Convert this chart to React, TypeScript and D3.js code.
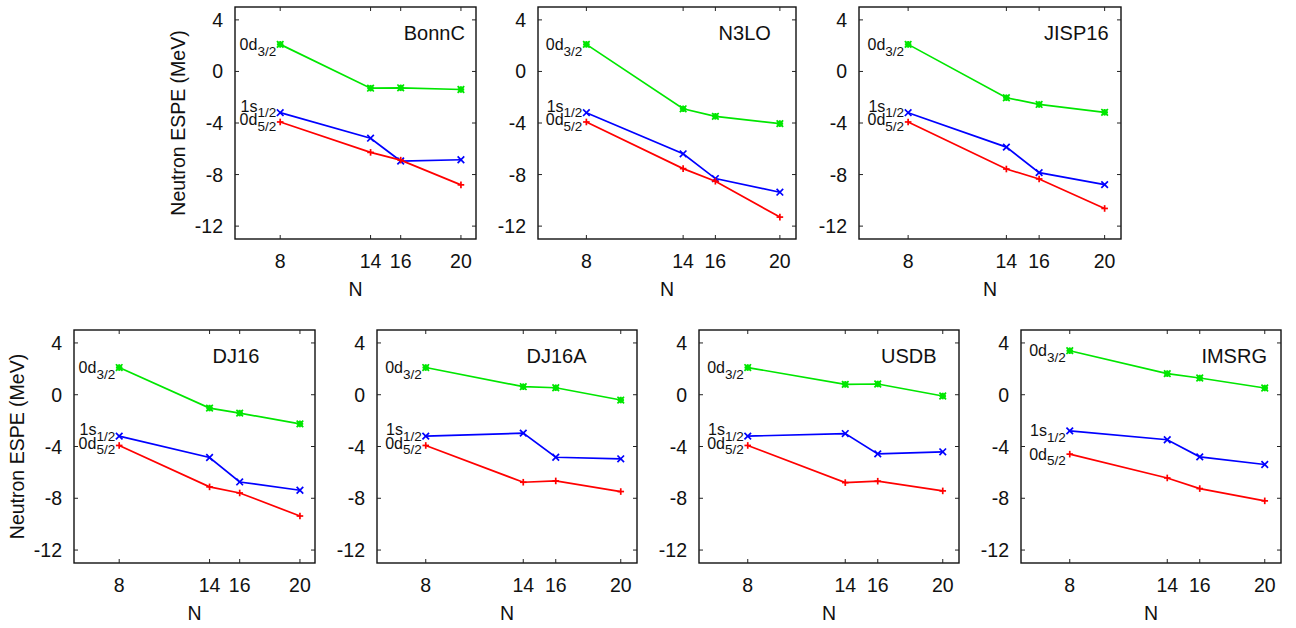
import React, { useEffect, useRef } from 'react';
import * as d3 from 'd3';

// neutron numbers on the x axis
const nValues = [8, 14, 16, 20];
const xTicks = [8, 14, 16, 20];
const yTicks = [4, 0, -4, -8, -12];

const panelNames = ['BonnC', 'N3LO', 'JISP16', 'DJ16', 'DJ16A', 'USDB', 'IMSRG'];

// ESPE (MeV) per panel, one row per panel in panelNames order
const d32Values = [
  [2.1, -1.3, -1.27, -1.4],
  [2.1, -2.9, -3.48, -4.05],
  [2.1, -2.04, -2.56, -3.17],
  [2.1, -1.03, -1.42, -2.25],
  [2.1, 0.62, 0.54, -0.41],
  [2.1, 0.8, 0.83, -0.1],
  [3.4, 1.63, 1.29, 0.52],
];
const s12Values = [
  [-3.2, -5.18, -6.95, -6.85],
  [-3.2, -6.39, -8.31, -9.37],
  [-3.2, -5.87, -7.85, -8.78],
  [-3.2, -4.85, -6.74, -7.38],
  [-3.2, -2.97, -4.83, -4.95],
  [-3.2, -3.0, -4.57, -4.41],
  [-2.79, -3.48, -4.8, -5.39],
];
const d52Values = [
  [-3.92, -6.28, -6.88, -8.8],
  [-3.92, -7.54, -8.52, -11.3],
  [-3.92, -7.57, -8.34, -10.63],
  [-3.92, -7.12, -7.59, -9.37],
  [-3.92, -6.76, -6.66, -7.48],
  [-3.92, -6.79, -6.68, -7.43],
  [-4.59, -6.43, -7.25, -8.2],
];

// layout (pixels) for each panel frame
const frames = [
  { left: 235, right: 476, top: 7, bottom: 239, ylabel: true },
  { left: 538, right: 796, top: 7, bottom: 239, ylabel: false },
  { left: 859, right: 1121, top: 7, bottom: 239, ylabel: false },
  { left: 74, right: 315, top: 330, bottom: 563, ylabel: true },
  { left: 377, right: 637, top: 330, bottom: 563, ylabel: false },
  { left: 699, right: 959, top: 330, bottom: 563, ylabel: false },
  { left: 1021, right: 1281, top: 330, bottom: 563, ylabel: false },
];
// title start position in data units of x
const titleX = [16.2, 16.2, 16.3, 14.2, 14.2, 16.2, 16.1];
// vertical nudge (px) of the level labels: d3/2, s1/2, d5/2
const labelNudge = [
  [0, -6.5, -2.2],
  [0, -6.5, -2.2],
  [0, -6.5, -2.2],
  [0, -6.5, -2.2],
  [0, -6.5, -2.2],
  [0, -6.5, -2.2],
  [0, 0, 0],
];

const FONT = '"Liberation Sans", Arial, Helvetica, sans-serif';
const AXIS_FS = 19.5;

const series = [
  { key: 'd32', main: '0d', sub: '3/2', color: '#00e600', marker: 'star', values: d32Values },
  { key: 's12', main: '1s', sub: '1/2', color: '#0000ff', marker: 'cross', values: s12Values },
  { key: 'd52', main: '0d', sub: '5/2', color: '#ff0000', marker: 'plus', values: d52Values },
];

const drawMarker = (g: any, type: string, x: number, y: number, color: string) => {
  const s = 3.3;
  const lines: number[][] = [];
  if (type === 'plus' || type === 'star') {
    lines.push([x - s, y, x + s, y], [x, y - s, x, y + s]);
  }
  if (type === 'cross' || type === 'star') {
    lines.push([x - s, y - s, x + s, y + s], [x - s, y + s, x + s, y - s]);
  }
  lines.forEach(l => {
    g.append('line')
      .attr('x1', l[0]).attr('y1', l[1]).attr('x2', l[2]).attr('y2', l[3])
      .attr('stroke', color).attr('stroke-width', 1.7);
  });
  if (type === 'star') {
    g.append('rect')
      .attr('x', x - 2.8).attr('y', y - 2.8).attr('width', 5.6).attr('height', 5.6)
      .attr('fill', color).attr('opacity', 0.85);
  }
};

const App = () => {
  const ref = useRef<SVGSVGElement>(null);

  useEffect(() => {
    const svg = d3.select(ref.current);
    svg.selectAll('*').remove();

    panelNames.forEach((name, p) => {
      const f = frames[p];
      const x = d3.scaleLinear().domain([5, 21]).range([f.left, f.right]);
      const y = d3.scaleLinear().domain([-13, 5]).range([f.bottom, f.top]);
      const g = svg.append('g');

      // frame
      g.append('rect')
        .attr('x', f.left).attr('y', f.top)
        .attr('width', f.right - f.left).attr('height', f.bottom - f.top)
        .attr('fill', 'none').attr('stroke', '#111').attr('stroke-width', 1.4);

      // y ticks (mirrored, inward)
      yTicks.forEach(t => {
        const yy = y(t);
        g.append('line').attr('x1', f.left).attr('x2', f.left + 4).attr('y1', yy).attr('y2', yy)
          .attr('stroke', '#222');
        g.append('line').attr('x1', f.right).attr('x2', f.right - 4).attr('y1', yy).attr('y2', yy)
          .attr('stroke', '#222');
        g.append('text')
          .attr('x', f.left - 12).attr('y', yy)
          .attr('text-anchor', 'end').attr('dominant-baseline', 'central')
          .attr('font-family', FONT).attr('font-size', AXIS_FS).attr('fill', '#111')
          .text(t);
      });

      // x ticks
      xTicks.forEach(t => {
        const xx = x(t);
        g.append('line').attr('x1', xx).attr('x2', xx).attr('y1', f.bottom).attr('y2', f.bottom - 4)
          .attr('stroke', '#222');
        g.append('line').attr('x1', xx).attr('x2', xx).attr('y1', f.top).attr('y2', f.top + 4)
          .attr('stroke', '#222');
        g.append('text')
          .attr('x', xx).attr('y', f.bottom + 22)
          .attr('text-anchor', 'middle').attr('dominant-baseline', 'central')
          .attr('font-family', FONT).attr('font-size', AXIS_FS).attr('fill', '#111')
          .text(t);
      });

      // axis titles
      g.append('text')
        .attr('x', (f.left + f.right) / 2).attr('y', f.bottom + 50)
        .attr('text-anchor', 'middle').attr('dominant-baseline', 'central')
        .attr('font-family', FONT).attr('font-size', AXIS_FS).attr('fill', '#111')
        .text('N');
      if (f.ylabel) {
        const cx = f.left - 57;
        const cy = (f.top + f.bottom) / 2;
        g.append('text')
          .attr('transform', `translate(${cx},${cy}) rotate(-90)`)
          .attr('text-anchor', 'middle').attr('dominant-baseline', 'central')
          .attr('font-family', FONT).attr('font-size', AXIS_FS).attr('fill', '#111')
          .text('Neutron ESPE (MeV)');
      }

      // panel title
      g.append('text')
        .attr('x', x(titleX[p])).attr('y', y(3))
        .attr('dominant-baseline', 'central')
        .attr('font-family', FONT).attr('font-size', 20).attr('fill', '#111')
        .text(name);

      const line = d3.line<number>()
        .x((_, i) => x(nValues[i]))
        .y(d => y(d));

      series.forEach((s, si) => {
        const vals = s.values[p];
        g.append('path')
          .datum(vals)
          .attr('d', line)
          .attr('fill', 'none').attr('stroke', s.color).attr('stroke-width', 1.7);
        vals.forEach((v, i) => drawMarker(g, s.marker, x(nValues[i]), y(v), s.color));

        // level label at the first point
        const lx = x(nValues[0]) - 4;
        const ly = y(vals[0]) + 5.5 + labelNudge[p][si];
        const txt = g.append('text')
          .attr('x', lx).attr('y', ly)
          .attr('text-anchor', 'end')
          .attr('font-family', FONT).attr('font-size', 16).attr('fill', '#111');
        txt.append('tspan').text(s.main);
        txt.append('tspan').attr('dy', 5.7).attr('font-size', 13.5).text(s.sub);
      });
    });
  }, []);

  return (
    <svg
      ref={ref}
      width={1296}
      height={628}
      style={{ position: 'absolute', left: 0, top: 0, background: '#fff' }}
    />
  );
};

export default App;
